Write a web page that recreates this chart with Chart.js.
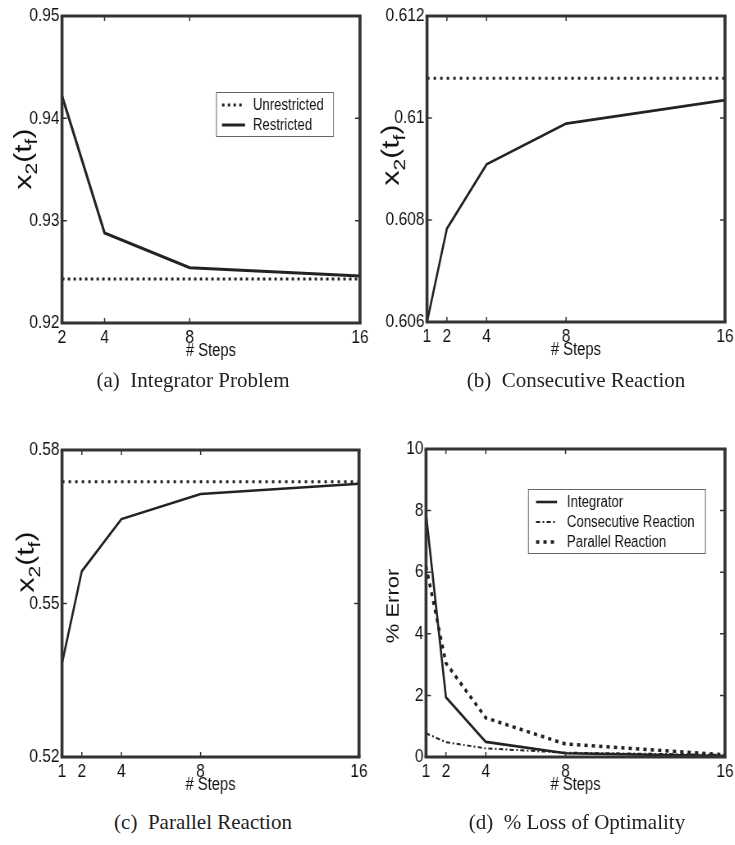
<!DOCTYPE html>
<html>
<head>
<meta charset="utf-8">
<script src="https://cdn.jsdelivr.net/npm/chart.js@4/dist/chart.umd.min.js"></script>
<style>
  html, body { margin: 0; padding: 0; background: #fff; }
  body { width: 735px; height: 845px; position: relative; overflow: hidden; }
  canvas { position: absolute; transform-origin: 0 0; }
  .caption {
    position: absolute; white-space: nowrap; transform: translateX(-50%);
    font-family: "Liberation Serif", "Times New Roman", serif; font-size: 21px;
    line-height: 24px; color: #222;
  }
</style>
</head>
<body>
<canvas id="chartA" style="left:0;top:0"></canvas>
<canvas id="chartB" style="left:365px;top:0"></canvas>
<canvas id="chartC" style="left:0;top:405px"></canvas>
<canvas id="chartD" style="left:365px;top:405px"></canvas>

<div class="caption" style="left:193px;top:368px">(a)&nbsp; Integrator Problem</div>
<div class="caption" style="left:576px;top:368px">(b)&nbsp; Consecutive Reaction</div>
<div class="caption" style="left:203px;top:810px">(c)&nbsp; Parallel Reaction</div>
<div class="caption" style="left:577px;top:810px">(d)&nbsp; % Loss of Optimality</div>

<script>
// Number of control steps on the horizontal axes
const stepsA = [2, 4, 8, 16];
const steps = [1, 2, 4, 8, 16];

// (a) Integrator problem, final x2
const integratorUnrestricted = [0.9243, 0.9243, 0.9243, 0.9243];
const integratorRestricted = [0.9422, 0.9288, 0.9254, 0.9246];

// (b) Consecutive reaction, final x2
const consecutiveUnrestricted = [0.61078, 0.61078, 0.61078, 0.61078, 0.61078];
const consecutiveRestricted = [0.6060, 0.60783, 0.60909, 0.60989, 0.61035];

// (c) Parallel reaction, final x2
const parallelUnrestricted = [0.5738, 0.5738, 0.5738, 0.5738, 0.5738];
const parallelRestricted = [0.5383, 0.5563, 0.5665, 0.5714, 0.5734];

// (d) Percent loss of optimality
const errorIntegrator = [7.9, 1.94, 0.49, 0.12, 0.03];
const errorConsecutive = [0.77, 0.48, 0.28, 0.14, 0.07];
const errorParallel = [6.2, 3.05, 1.27, 0.42, 0.07];

// Axis ticks and their labels
const xTicksA = [2, 4, 8, 16];
const xTicks = [1, 2, 4, 8, 16];
const xTickLabelsA = ['2', '4', '8', '16'];
const xTickLabels = ['1', '2', '4', '8', '16'];
const yTicksA = [0.92, 0.93, 0.94, 0.95];
const yTickLabelsA = ['0.92', '0.93', '0.94', '0.95'];
const yTicksB = [0.606, 0.608, 0.61, 0.612];
const yTickLabelsB = ['0.606', '0.608', '0.61', '0.612'];
const yTicksC = [0.52, 0.55, 0.58];
const yTickLabelsC = ['0.52', '0.55', '0.58'];
const yTicksD = [0, 2, 4, 6, 8, 10];
const yTickLabelsD = ['0', '2', '4', '6', '8', '10'];

// The figures are drawn wide and then narrowed horizontally by this factor
const SQUEEZE = 0.82;
const FONT = '"Liberation Sans", Arial, Helvetica, sans-serif';
const INK = '#111';
const LINE = '#222';
const FRAME = '#333';

function pts(xs, ys) { return xs.map((x, i) => ({ x: x, y: ys[i] })); }

// Box around the plotting area plus small inward tick marks on all four sides
const framePlugin = {
  id: 'frame',
  afterDraw(chart) {
    const { ctx, chartArea: a, scales } = chart;
    ctx.save();
    ctx.strokeStyle = FRAME;
    ctx.lineWidth = 1.5;
    ctx.beginPath();
    scales.x.ticks.forEach(t => {
      const px = scales.x.getPixelForValue(t.value);
      ctx.moveTo(px, a.bottom); ctx.lineTo(px, a.bottom - 5);
      ctx.moveTo(px, a.top); ctx.lineTo(px, a.top + 5);
    });
    scales.y.ticks.forEach(t => {
      const py = scales.y.getPixelForValue(t.value);
      ctx.moveTo(a.left, py); ctx.lineTo(a.left + 6, py);
      ctx.moveTo(a.right, py); ctx.lineTo(a.right - 6, py);
    });
    ctx.stroke();
    // horizontal sides
    ctx.lineWidth = 3;
    ctx.beginPath();
    ctx.moveTo(a.left - 1.5 / SQUEEZE, a.top); ctx.lineTo(a.right + 1.5 / SQUEEZE, a.top);
    ctx.moveTo(a.left - 1.5 / SQUEEZE, a.bottom); ctx.lineTo(a.right + 1.5 / SQUEEZE, a.bottom);
    ctx.stroke();
    // vertical sides, widened so they stay as thick as the others after narrowing
    ctx.lineWidth = 3 / SQUEEZE;
    ctx.beginPath();
    ctx.moveTo(a.left, a.top); ctx.lineTo(a.left, a.bottom);
    ctx.moveTo(a.right, a.top); ctx.lineTo(a.right, a.bottom);
    ctx.stroke();
    ctx.restore();
  }
};

// Vertical axis title with optional subscripts
const yTitlePlugin = {
  id: 'yRichTitle',
  afterDraw(chart, args, opts) {
    if (!opts || !opts.parts) return;
    const { ctx, chartArea: a } = chart;
    const size = opts.size, sub = opts.subSize;
    ctx.save();
    ctx.translate(a.left - opts.offset / SQUEEZE, opts.centerY);
    ctx.rotate(-Math.PI / 2);
    ctx.fillStyle = INK;
    ctx.textBaseline = 'alphabetic';
    let total = 0;
    opts.parts.forEach(p => {
      ctx.font = (p.sub ? sub : size) + 'px ' + FONT;
      total += ctx.measureText(p.t).width;
    });
    let x = -total / 2;
    opts.parts.forEach(p => {
      ctx.font = (p.sub ? sub : size) + 'px ' + FONT;
      ctx.fillText(p.t, x, p.sub ? size * 0.36 + sub * 0.35 : size * 0.36);
      x += ctx.measureText(p.t).width;
    });
    ctx.restore();
  }
};

// Boxed legend placed inside the plotting area
const boxLegendPlugin = {
  id: 'boxLegend',
  afterDraw(chart, args, opts) {
    if (!opts || !opts.rows) return;
    const { ctx } = chart;
    const k = 1 / SQUEEZE;
    const x0 = opts.x * k, w = opts.w * k;
    ctx.save();
    ctx.fillStyle = '#fff';
    ctx.fillRect(x0, opts.y, w, opts.h);
    ctx.strokeStyle = '#666';
    ctx.lineWidth = 1;
    ctx.strokeRect(x0 + 0.5, opts.y + 0.5, w, opts.h);
    opts.rows.forEach((row, i) => {
      const ds = chart.data.datasets[row.dataset];
      const cy = opts.y + opts.firstRow + i * opts.rowGap;
      ctx.strokeStyle = ds.borderColor;
      ctx.lineWidth = ds.borderWidth;
      ctx.setLineDash(ds.borderDash || []);
      ctx.beginPath();
      ctx.moveTo(x0 + opts.sampleX * k, cy);
      ctx.lineTo(x0 + (opts.sampleX + opts.sampleLen) * k, cy);
      ctx.stroke();
      ctx.setLineDash([]);
      ctx.fillStyle = INK;
      ctx.font = opts.fontSize + 'px ' + FONT;
      ctx.textBaseline = 'middle';
      ctx.fillText(ds.label, x0 + opts.textX * k, cy + 1);
    });
    ctx.restore();
  }
};

// cfg.area / cfg.size are in on-screen pixels, relative to the canvas corner
function makeChart(id, cfg) {
  const canvas = document.getElementById(id);
  const k = 1 / SQUEEZE;
  const W = Math.round(cfg.size.w * k), H = cfg.size.h;
  canvas.width = W;
  canvas.height = H;
  canvas.style.width = W + 'px';
  canvas.style.height = H + 'px';
  canvas.style.transform = 'scaleX(' + SQUEEZE + ')';
  const area = {
    left: cfg.area.left * k, right: cfg.area.right * k,
    top: cfg.area.top, bottom: cfg.area.bottom
  };
  const titleFont = { family: FONT, size: 18, lineHeight: 1.2 };
  const titlePadBottom = H - (area.bottom + 28) - 18 * 1.2 / 2;
  return new Chart(canvas, {
    type: 'line',
    data: { datasets: cfg.datasets },
    options: {
      responsive: false,
      animation: false,
      devicePixelRatio: 1,
      layout: { padding: { left: 0, top: area.top, right: W - area.right, bottom: 0 } },
      elements: { point: { radius: 0 }, line: { tension: 0 } },
      plugins: {
        legend: { display: false },
        tooltip: { enabled: false },
        boxLegend: cfg.legend || {},
        yRichTitle: cfg.yTitle
      },
      scales: {
        x: {
          type: 'linear',
          min: cfg.xTicks[0],
          max: cfg.xTicks[cfg.xTicks.length - 1],
          grid: { display: false, drawTicks: false },
          border: { display: false },
          afterBuildTicks: s => { s.ticks = cfg.xTicks.map(v => ({ value: v })); },
          afterFit: s => { s.height = H - area.bottom; s.paddingLeft = 0; s.paddingRight = 0; },
          ticks: {
            font: { family: FONT, size: 19 }, color: INK, padding: 3,
            maxRotation: 0, autoSkip: false,
            callback: (v, i) => cfg.xLabels[i]
          },
          title: {
            display: true, text: '# Steps', color: INK, font: titleFont,
            padding: { top: 0, bottom: titlePadBottom }
          }
        },
        y: {
          type: 'linear',
          min: cfg.yTicks[0],
          max: cfg.yTicks[cfg.yTicks.length - 1],
          grid: { display: false, drawTicks: false },
          border: { display: false },
          afterBuildTicks: s => { s.ticks = cfg.yTicks.map(v => ({ value: v })); },
          afterFit: s => { s.width = area.left; s.paddingTop = 0; s.paddingBottom = 0; },
          ticks: {
            font: { family: FONT, size: 19 }, color: INK, padding: 3,
            autoSkip: false,
            callback: (v, i) => cfg.yLabels[i]
          }
        }
      }
    },
    plugins: [framePlugin, yTitlePlugin, boxLegendPlugin]
  });
}

const x2Title = [{ t: 'x' }, { t: '2', sub: true }, { t: '(t' }, { t: 'f', sub: true }, { t: ')' }];

// (a) Integrator Problem
makeChart('chartA', {
  size: { w: 372, h: 372 },
  area: { left: 62, top: 16, right: 360, bottom: 323 },
  xTicks: xTicksA, xLabels: xTickLabelsA,
  yTicks: yTicksA, yLabels: yTickLabelsA,
  yTitle: { parts: x2Title, size: 30, subSize: 21, offset: 40, centerY: 159 },
  datasets: [
    { label: 'Unrestricted', data: pts(stepsA, integratorUnrestricted),
      borderColor: LINE, borderWidth: 3, borderDash: [3, 4] },
    { label: 'Restricted', data: pts(stepsA, integratorRestricted),
      borderColor: LINE, borderWidth: 3 }
  ],
  legend: { x: 216, y: 92, w: 117, h: 44, firstRow: 13, rowGap: 20,
            sampleX: 6, sampleLen: 23, textX: 37, fontSize: 16,
            rows: [{ dataset: 0 }, { dataset: 1 }] }
});

// (b) Consecutive Reaction
makeChart('chartB', {
  size: { w: 370, h: 372 },
  area: { left: 62, top: 16, right: 360, bottom: 322 },
  xTicks: xTicks, xLabels: xTickLabels,
  yTicks: yTicksB, yLabels: yTickLabelsB,
  yTitle: { parts: x2Title, size: 30, subSize: 21, offset: 37, centerY: 155 },
  datasets: [
    { label: 'Unrestricted', data: pts(steps, consecutiveUnrestricted),
      borderColor: LINE, borderWidth: 3, borderDash: [3, 5] },
    { label: 'Restricted', data: pts(steps, consecutiveRestricted),
      borderColor: LINE, borderWidth: 2.6 }
  ]
});

// (c) Parallel Reaction
makeChart('chartC', {
  size: { w: 372, h: 400 },
  area: { left: 62, top: 45, right: 359, bottom: 352 },
  xTicks: xTicks, xLabels: xTickLabels,
  yTicks: yTicksC, yLabels: yTickLabelsC,
  yTitle: { parts: x2Title, size: 30, subSize: 21, offset: 37, centerY: 157 },
  datasets: [
    { label: 'Unrestricted', data: pts(steps, parallelUnrestricted),
      borderColor: LINE, borderWidth: 3, borderDash: [3, 5] },
    { label: 'Restricted', data: pts(steps, parallelRestricted),
      borderColor: LINE, borderWidth: 2.6 }
  ]
});

// (d) % Loss of Optimality
makeChart('chartD', {
  size: { w: 370, h: 400 },
  area: { left: 61, top: 44, right: 360, bottom: 352 },
  xTicks: xTicks, xLabels: xTickLabels,
  yTicks: yTicksD, yLabels: yTickLabelsD,
  yTitle: { parts: [{ t: '% Error' }], size: 22, subSize: 15, offset: 34, centerY: 201 },
  datasets: [
    { label: 'Integrator', data: pts(steps, errorIntegrator),
      borderColor: LINE, borderWidth: 2.6 },
    { label: 'Consecutive Reaction', data: pts(steps, errorConsecutive),
      borderColor: LINE, borderWidth: 2, borderDash: [5, 3, 2, 3] },
    { label: 'Parallel Reaction', data: pts(steps, errorParallel),
      borderColor: LINE, borderWidth: 3.5, borderDash: [4, 5] }
  ],
  legend: { x: 163, y: 84, w: 177, h: 64, firstRow: 13, rowGap: 20,
            sampleX: 8, sampleLen: 21, textX: 39, fontSize: 16,
            rows: [{ dataset: 0 }, { dataset: 1 }, { dataset: 2 }] }
});
</script>
</body>
</html>
